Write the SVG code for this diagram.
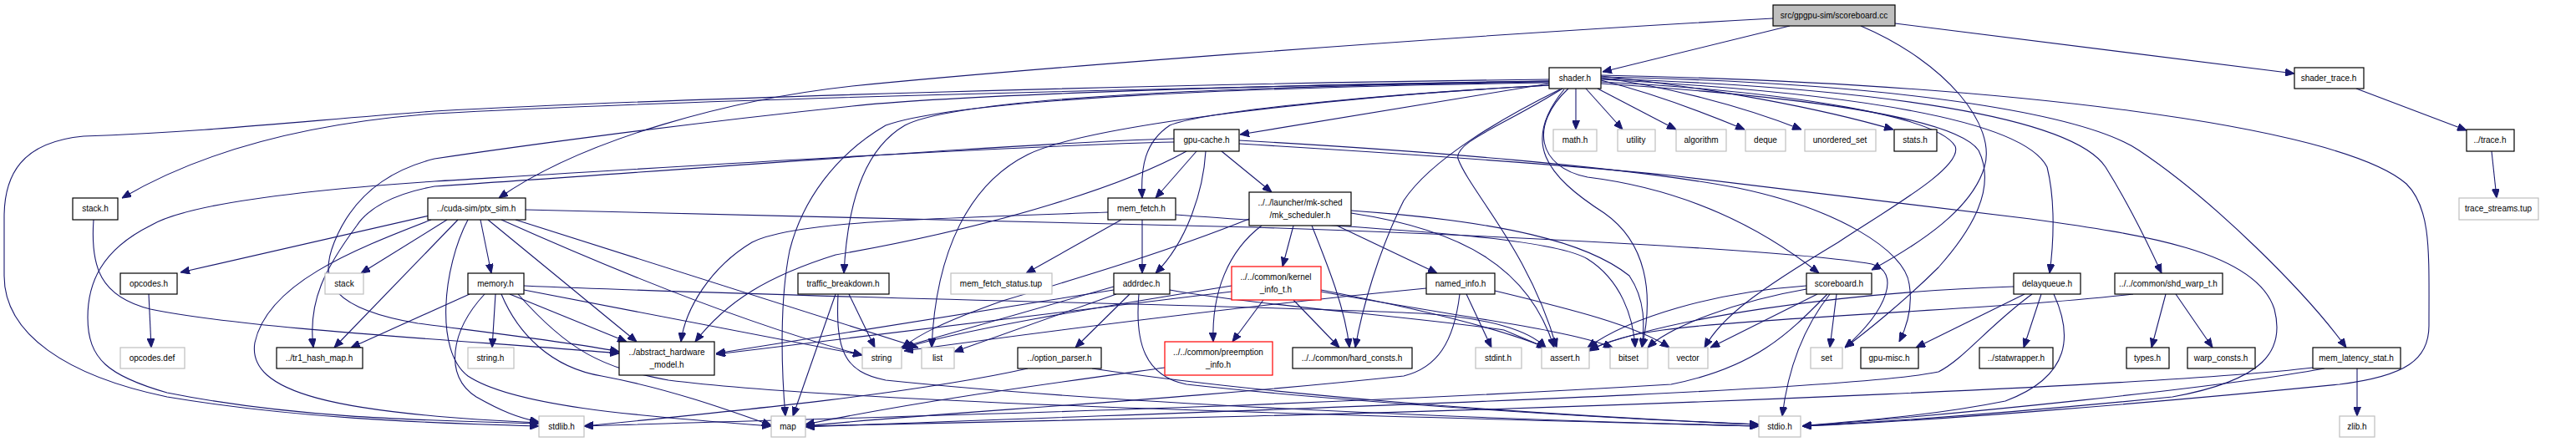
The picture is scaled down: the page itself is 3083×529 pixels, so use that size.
<svg xmlns="http://www.w3.org/2000/svg" width="3083" height="529" viewBox="0 0 3083 529">
<style>
.n rect{fill:#fff;stroke:#000;stroke-width:1.2}
.g rect{fill:#fff;stroke:#bfbfbf;stroke-width:1.2}
.r rect{fill:#fff;stroke:#ff0000;stroke-width:1.2}
.root rect{fill:#bfbfbf;stroke:#000;stroke-width:1.2}
text{font-family:"Liberation Sans",Arial,sans-serif;font-size:10px;fill:#000;text-anchor:middle}
#edges path{fill:none;stroke:#191970;stroke-width:1.1;marker-end:url(#a)}
</style>
<defs>
<marker id="a" markerWidth="11" markerHeight="9" refX="11" refY="4.5" orient="auto" markerUnits="userSpaceOnUse"><path d="M0,0 L11,4.5 L0,9 z" fill="#191970" stroke="#191970" stroke-width="1"/></marker>
</defs>
<rect width="3083" height="529" fill="#fff"/>
<g id="edges">
<path d="M2142,31 L1918,86"/>
<path d="M2122,22 C1700,45 1200,85 1020,103 C880,118 700,165 597,237"/>
<path d="M2227,31 C2330,75 2390,150 2375,200 C2360,250 2300,290 2240,323"/>
<path d="M2268,28 L2746,88"/>
<path d="M2820,106 L2952,156"/>
<path d="M2982,181 L2988,237"/>
<path d="M1854,97 C1400,105 800,120 520,136 C400,145 260,170 146,237"/>
<path d="M1854,95 C1400,100 800,118 520,133 C380,143 250,158 100,163 C25,170 5,210 5,260 L5,330 C5,400 80,450 200,475 C350,500 500,506 645,510"/>
<path d="M1854,100 L1484,161"/>
<path d="M1886,106 L1886,155"/>
<path d="M1898,106 L1942,155"/>
<path d="M1912,106 L2006,155"/>
<path d="M1916,96 C1980,112 2040,135 2088,155"/>
<path d="M1916,93 C1990,103 2080,125 2156,155"/>
<path d="M1916,91 C2050,105 2180,130 2266,155"/>
<path d="M1856,102 C1600,115 1300,150 1230,185 C1160,220 1120,300 1115,416"/>
<path d="M1867,107 C1800,140 1713,190 1680,240 C1650,300 1630,370 1622,416"/>
<path d="M1870,106 C1800,150 1740,170 1745,190 C1760,230 1830,300 1863,416"/>
<path d="M1872,107 C1820,170 1850,210 1920,255 C1970,290 1980,350 1965,416"/>
<path d="M1916,98 C2150,110 2320,140 2340,175 C2350,200 2260,250 2200,290 C2100,350 2060,380 2040,416"/>
<path d="M1916,100 C2150,115 2340,140 2368,180 C2390,225 2360,275 2320,320 C2280,360 2230,400 2208,416"/>
<path d="M1916,95 C2200,110 2420,140 2450,200 C2460,240 2458,290 2453,327"/>
<path d="M1916,94 C2250,105 2480,140 2520,200 C2545,240 2570,290 2587,327"/>
<path d="M1916,92 C2300,100 2500,140 2560,180 C2650,240 2760,350 2808,416"/>
<path d="M1916,90 C2400,100 2800,150 2880,220 C2910,250 2907,300 2907,390 C2907,430 2880,450 2800,460 C2600,480 2300,505 2157,510"/>
<path d="M1877,106 C1830,150 1840,200 1900,212 C1980,222 2080,250 2177,327"/>
<path d="M1856,102 C1700,110 1450,130 1400,150 C1370,170 1365,200 1367,237"/>
<path d="M1854,98 C1500,103 1150,115 1083,150 C1040,175 1015,230 1010,327"/>
<path d="M1854,99 C1500,104 1150,118 1060,150 C1000,185 960,240 945,300 C933,360 935,440 940,498"/>
<path d="M1854,97 C1400,103 1100,118 1020,127 C800,150 600,178 520,190 C460,205 420,240 400,290 C380,340 400,370 500,387 C600,400 700,412 741,421"/>
<path d="M514,258 L216,326"/>
<path d="M535,263 L432,327"/>
<path d="M575,263 L588,327"/>
<path d="M548,263 L400,416"/>
<path d="M584,263 L762,409"/>
<path d="M600,263 C750,330 900,390 1032,425"/>
<path d="M617,263 C800,320 950,370 1099,416"/>
<path d="M629,251 L1500,272 C1800,282 2150,300 2240,316 C2275,325 2260,370 2208,416"/>
<path d="M516,263 C420,300 320,340 305,410 C295,470 400,495 645,506"/>
<path d="M560,263 C530,320 520,420 560,450 C620,490 800,500 923,510"/>
<path d="M562,352 L420,416"/>
<path d="M580,352 C540,395 530,450 570,475 C600,492 620,500 645,505"/>
<path d="M593,352 L589,416"/>
<path d="M600,352 C620,400 660,440 720,450 C800,465 870,490 923,509"/>
<path d="M610,352 L750,409"/>
<path d="M620,352 C680,420 720,440 800,455 C1000,480 1500,495 2105,510"/>
<path d="M627,342 C1000,358 1500,365 1700,375 C1780,380 1830,395 1850,416"/>
<path d="M627,347 C800,380 950,410 1032,425"/>
<path d="M112,263 C108,320 120,355 180,370 C300,395 600,410 741,423"/>
<path d="M178,352 L181,416"/>
<path d="M1432,181 L1383,237"/>
<path d="M1443,181 C1440,230 1420,290 1383,327"/>
<path d="M1462,181 L1522,230"/>
<path d="M1483,168 C1700,180 1950,200 2080,225 C2200,250 2280,300 2285,340 C2290,370 2280,395 2273,409"/>
<path d="M1483,172 C1700,185 1900,200 2000,210 L2430,262 C2560,280 2700,300 2722,370 C2735,420 2710,455 2600,475 C2400,495 2250,505 2157,510"/>
<path d="M1405,170 C1200,175 800,200 520,217 C400,225 230,240 180,270 C120,300 105,340 105,380 C105,430 130,450 200,470 C350,500 500,503 645,507"/>
<path d="M1405,166 C1200,172 800,205 520,223 C470,232 440,250 427,270 C390,320 368,360 375,416"/>
<path d="M1420,181 C1350,220 1200,270 1000,305 C920,330 870,360 832,409"/>
<path d="M1342,263 L1228,327"/>
<path d="M1367,263 L1367,327"/>
<path d="M1326,254 C1100,262 950,265 900,290 C850,320 820,370 815,409"/>
<path d="M1407,257 C1600,272 1850,280 1900,310 C1940,335 1955,380 1957,416"/>
<path d="M1352,352 L1287,416"/>
<path d="M1333,347 L857,423"/>
<path d="M1333,343 L1078,416"/>
<path d="M1336,352 L1142,421"/>
<path d="M1363,352 C1358,410 1370,450 1420,460 C1600,480 1900,500 2105,508"/>
<path d="M1400,347 C1500,365 1700,380 1800,395 L1850,416"/>
<path d="M1230,441 C1100,470 900,490 699,510"/>
<path d="M1307,441 C1500,470 1800,495 2105,508"/>
<path d="M1394,440 C1250,460 1100,480 964,508"/>
<path d="M1000,352 L949,498"/>
<path d="M1016,352 L1047,416"/>
<path d="M1003,352 C1000,420 1010,445 1060,455 C1300,480 1700,500 2105,510"/>
<path d="M1548,270 L1535,319"/>
<path d="M1570,270 C1590,320 1610,370 1615,416"/>
<path d="M1600,270 L1720,327"/>
<path d="M1510,270 C1470,300 1450,350 1452,409"/>
<path d="M1495,262 C1400,300 1300,330 1200,360 C1130,385 1100,400 1080,416"/>
<path d="M1617,252 C1800,265 1900,290 1950,330 C1970,360 1968,390 1965,416"/>
<path d="M1617,255 C1750,275 1830,320 1860,416"/>
<path d="M1512,359 L1475,409"/>
<path d="M1548,359 L1603,416"/>
<path d="M1474,342 C1300,370 1150,395 1080,417"/>
<path d="M1474,349 L857,424"/>
<path d="M1581,347 C1700,370 1800,395 1850,416"/>
<path d="M1581,349 C1750,380 1880,395 1930,416"/>
<path d="M1755,352 L1785,416"/>
<path d="M1707,345 C1500,365 1300,390 1082,420"/>
<path d="M1747,352 C1740,410 1720,440 1680,450 C1400,480 1100,495 964,510"/>
<path d="M1789,348 C1880,370 1960,390 1998,416"/>
<path d="M2198,352 L2190,416"/>
<path d="M2175,352 L2047,416"/>
<path d="M2190,352 C2160,390 2140,440 2133,498"/>
<path d="M2187,352 C2140,400 2100,440 2000,460 C1500,490 1000,500 699,510"/>
<path d="M2162,342 C2050,350 1950,380 1900,416"/>
<path d="M2162,346 C2080,360 2000,390 1972,416"/>
<path d="M2423,352 L2293,416"/>
<path d="M2443,352 L2422,416"/>
<path d="M2458,352 C2480,400 2480,450 2400,480 C2300,500 2200,505 2157,510"/>
<path d="M2432,352 C2380,390 2350,430 2320,445 C2200,470 1500,490 964,511"/>
<path d="M2410,343 C2200,350 2000,380 1902,418"/>
<path d="M2592,352 L2575,416"/>
<path d="M2604,352 L2648,416"/>
<path d="M2553,352 C2400,370 2100,380 1990,395 C1950,400 1920,410 1902,420"/>
<path d="M2821,441 L2821,498"/>
<path d="M2782,441 C2650,465 2350,495 2157,510"/>
<path d="M2768,440 C2600,460 2000,485 1500,498 C1200,505 1000,508 964,510"/>
</g>
<g id="root" class="root"><rect x="2122" y="6" width="146" height="25"/><text x="2195" y="22">src/gpgpu-sim/scoreboard.cc</text></g>
<g id="shader_h" class="n"><rect x="1854" y="81" width="62" height="25"/><text x="1885" y="97">shader.h</text></g>
<g id="shader_trace_h" class="n"><rect x="2746" y="81" width="83" height="25"/><text x="2787" y="97">shader_trace.h</text></g>
<g id="gpu_cache_h" class="n"><rect x="1405" y="155" width="78" height="26"/><text x="1444" y="171">gpu-cache.h</text></g>
<g id="math_h" class="g"><rect x="1859" y="155" width="52" height="26"/><text x="1885" y="171">math.h</text></g>
<g id="utility" class="g"><rect x="1936" y="155" width="45" height="26"/><text x="1958" y="171">utility</text></g>
<g id="algorithm" class="g"><rect x="2006" y="155" width="60" height="26"/><text x="2036" y="171">algorithm</text></g>
<g id="deque" class="g"><rect x="2089" y="155" width="48" height="26"/><text x="2113" y="171">deque</text></g>
<g id="unordered_set" class="g"><rect x="2160" y="155" width="85" height="26"/><text x="2202" y="171">unordered_set</text></g>
<g id="stats_h" class="n"><rect x="2267" y="155" width="51" height="26"/><text x="2292" y="171">stats.h</text></g>
<g id="trace_h" class="n"><rect x="2952" y="155" width="57" height="26"/><text x="2980" y="171">../trace.h</text></g>
<g id="stack_h" class="n"><rect x="87" y="237" width="54" height="26"/><text x="114" y="253">stack.h</text></g>
<g id="ptx_sim_h" class="n"><rect x="512" y="237" width="117" height="26"/><text x="570" y="253">../cuda-sim/ptx_sim.h</text></g>
<g id="mem_fetch_h" class="n"><rect x="1326" y="237" width="81" height="26"/><text x="1366" y="253">mem_fetch.h</text></g>
<g id="mk_scheduler_h" class="n"><rect x="1495" y="230" width="122" height="40"/><text x="1556" y="246">../../launcher/mk-sched</text><text x="1556" y="261">/mk_scheduler.h</text></g>
<g id="trace_streams_tup" class="g"><rect x="2943" y="237" width="95" height="26"/><text x="2990" y="253">trace_streams.tup</text></g>
<g id="opcodes_h" class="n"><rect x="144" y="327" width="68" height="25"/><text x="178" y="343">opcodes.h</text></g>
<g id="stack" class="g"><rect x="389" y="327" width="46" height="25"/><text x="412" y="343">stack</text></g>
<g id="memory_h" class="n"><rect x="560" y="327" width="67" height="25"/><text x="593" y="343">memory.h</text></g>
<g id="traffic_breakdown_h" class="n"><rect x="955" y="327" width="109" height="25"/><text x="1009" y="343">traffic_breakdown.h</text></g>
<g id="mem_fetch_status_tup" class="g"><rect x="1138" y="327" width="121" height="25"/><text x="1198" y="343">mem_fetch_status.tup</text></g>
<g id="addrdec_h" class="n"><rect x="1333" y="327" width="67" height="25"/><text x="1366" y="343">addrdec.h</text></g>
<g id="kernel_info_t_h" class="r"><rect x="1474" y="319" width="107" height="40"/><text x="1527" y="335">../../common/kernel</text><text x="1527" y="350">_info_t.h</text></g>
<g id="named_info_h" class="n"><rect x="1707" y="327" width="82" height="25"/><text x="1748" y="343">named_info.h</text></g>
<g id="scoreboard_h" class="n"><rect x="2162" y="327" width="78" height="25"/><text x="2201" y="343">scoreboard.h</text></g>
<g id="delayqueue_h" class="n"><rect x="2410" y="327" width="80" height="25"/><text x="2450" y="343">delayqueue.h</text></g>
<g id="shd_warp_t_h" class="n"><rect x="2531" y="327" width="129" height="25"/><text x="2595" y="343">../../common/shd_warp_t.h</text></g>
<g id="opcodes_def" class="g"><rect x="144" y="416" width="77" height="25"/><text x="182" y="432">opcodes.def</text></g>
<g id="tr1_hash_map_h" class="n"><rect x="331" y="416" width="103" height="25"/><text x="382" y="432">../tr1_hash_map.h</text></g>
<g id="string_h" class="g"><rect x="560" y="416" width="55" height="25"/><text x="587" y="432">string.h</text></g>
<g id="abstract_hardware_model_h" class="n"><rect x="741" y="409" width="114" height="40"/><text x="798" y="425">../abstract_hardware</text><text x="798" y="440">_model.h</text></g>
<g id="string" class="g"><rect x="1032" y="416" width="47" height="25"/><text x="1055" y="432">string</text></g>
<g id="list" class="g"><rect x="1103" y="416" width="39" height="25"/><text x="1122" y="432">list</text></g>
<g id="option_parser_h" class="n"><rect x="1218" y="416" width="100" height="25"/><text x="1268" y="432">../option_parser.h</text></g>
<g id="preemption_info_h" class="r"><rect x="1394" y="409" width="129" height="40"/><text x="1458" y="425">../../common/preemption</text><text x="1458" y="440">_info.h</text></g>
<g id="hard_consts_h" class="n"><rect x="1547" y="416" width="143" height="25"/><text x="1618" y="432">../../common/hard_consts.h</text></g>
<g id="stdint_h" class="g"><rect x="1766" y="416" width="55" height="25"/><text x="1793" y="432">stdint.h</text></g>
<g id="assert_h" class="g"><rect x="1845" y="416" width="57" height="25"/><text x="1873" y="432">assert.h</text></g>
<g id="bitset" class="g"><rect x="1927" y="416" width="45" height="25"/><text x="1949" y="432">bitset</text></g>
<g id="vector" class="g"><rect x="1997" y="416" width="47" height="25"/><text x="2020" y="432">vector</text></g>
<g id="set" class="g"><rect x="2167" y="416" width="38" height="25"/><text x="2186" y="432">set</text></g>
<g id="gpu_misc_h" class="n"><rect x="2227" y="416" width="69" height="25"/><text x="2261" y="432">gpu-misc.h</text></g>
<g id="statwrapper_h" class="n"><rect x="2369" y="416" width="88" height="25"/><text x="2413" y="432">../statwrapper.h</text></g>
<g id="types_h" class="n"><rect x="2545" y="416" width="51" height="25"/><text x="2570" y="432">types.h</text></g>
<g id="warp_consts_h" class="n"><rect x="2618" y="416" width="81" height="25"/><text x="2658" y="432">warp_consts.h</text></g>
<g id="mem_latency_stat_h" class="n"><rect x="2768" y="416" width="105" height="25"/><text x="2820" y="432">mem_latency_stat.h</text></g>
<g id="stdlib_h" class="g"><rect x="645" y="498" width="54" height="25"/><text x="672" y="514">stdlib.h</text></g>
<g id="map" class="g"><rect x="923" y="498" width="41" height="25"/><text x="943" y="514">map</text></g>
<g id="stdio_h" class="g"><rect x="2105" y="498" width="50" height="25"/><text x="2130" y="514">stdio.h</text></g>
<g id="zlib_h" class="g"><rect x="2800" y="498" width="42" height="25"/><text x="2821" y="514">zlib.h</text></g>
</svg>
